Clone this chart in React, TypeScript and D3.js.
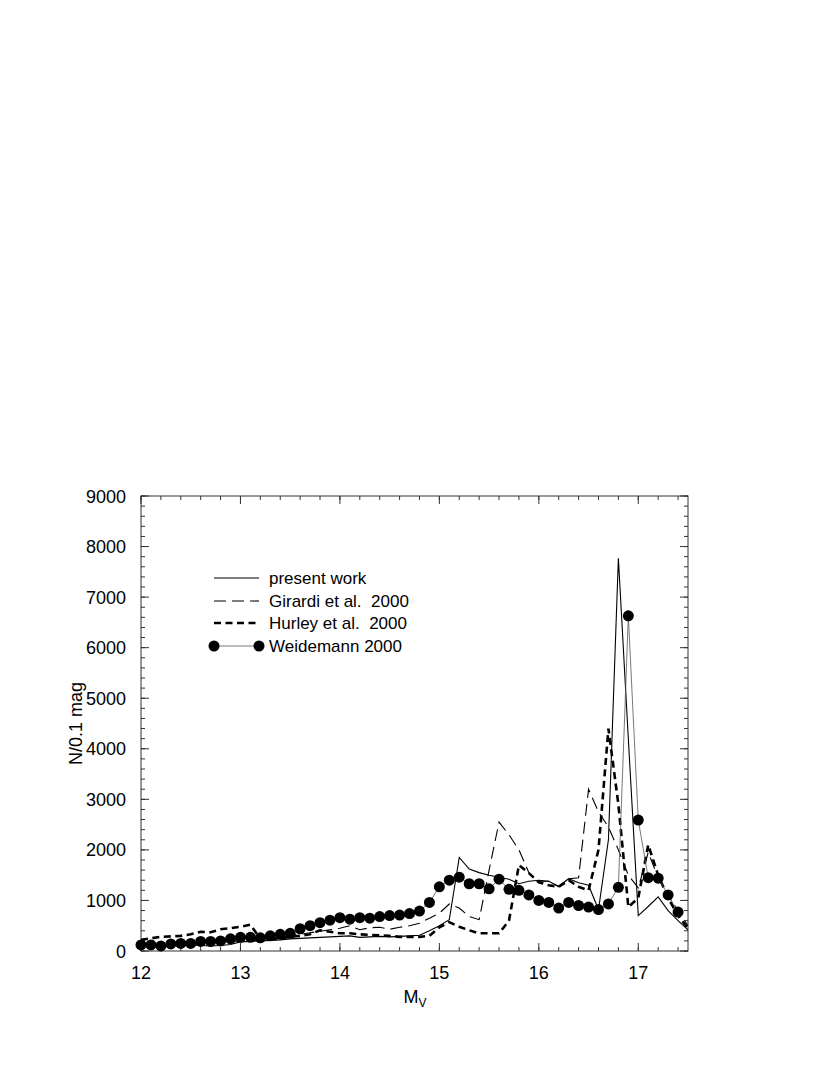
import React from "react";
import * as d3 from "d3";

const mv = d3.range(12.0, 17.501, 0.1).map((v) => Math.round(v * 10) / 10);

const presentWork = [80, 90, 100, 100, 110, 120, 110, 100, 110, 130, 180, 190, 200, 210, 220, 240, 250, 260, 270, 280, 290, 300, 270, 280, 290, 280, 290, 300, 310, 400, 500, 620, 1850, 1620, 1550, 1500, 1460, 1420, 1330, 1380, 1400, 1380, 1280, 1430, 1350, 1300, 820, 2200, 7770, 4200, 700, 880, 1070, 800, 600, 420];
const girardi = [100, 110, 120, 130, 140, 150, 160, 170, 180, 190, 200, 210, 220, 240, 260, 300, 330, 360, 390, 420, 450, 500, 420, 460, 470, 430, 470, 500, 550, 650, 750, 930, 850, 680, 620, 1600, 2550, 2300, 2000, 1550, 1380, 1380, 1270, 1430, 1450, 3200, 2750, 2450, 2000, 1500, 1250, 1950, 1450, 1100, 800, 500];
const hurley = [220, 250, 280, 290, 300, 330, 380, 370, 430, 450, 480, 520, 240, 230, 250, 280, 300, 330, 410, 380, 350, 350, 330, 320, 310, 300, 280, 280, 280, 300, 470, 570, 480, 410, 350, 350, 350, 600, 1700, 1540, 1360, 1300, 1270, 1400, 1270, 1200, 2000, 4400, 2900, 870, 1050, 2100, 1500, 1050, 700, 450];
const weidemannMv = mv.slice(0, 55);
const weidemann = [120, 120, 100, 140, 150, 150, 190, 190, 200, 240, 270, 270, 260, 300, 330, 350, 440, 500, 560, 610, 660, 630, 660, 650, 680, 700, 710, 740, 790, 960, 1270, 1400, 1460, 1330, 1330, 1230, 1420, 1220, 1200, 1110, 1000, 960, 850, 960, 900, 870, 820, 930, 1260, 6630, 2590, 1450, 1440, 1110, 770];

const xTicks = [12, 13, 14, 15, 16, 17];
const yTicks = [0, 1000, 2000, 3000, 4000, 5000, 6000, 7000, 8000, 9000];
const legendLabels = ["present work", "Girardi et al.  2000", "Hurley et al.  2000", "Weidemann 2000"];

export default function App() {
  const W = 830, H = 1075;
  const L = 141, R = 688, T = 496, B = 951;
  const x = d3.scaleLinear().domain([12, 17.5]).range([L, R]);
  const y = d3.scaleLinear().domain([0, 9000]).range([B, T]);
  const line = d3.line<[number, number]>().x((d) => x(d[0])).y((d) => y(d[1]));
  const pts = (vals: number[], xs: number[] = mv) => vals.map((v, i) => [xs[i], v] as [number, number]);

  const xMinor = d3.range(12, 17.5001, 0.2).map((v) => Math.round(v * 10) / 10);
  const yMinor = d3.range(0, 9001, 200);
  const font = "Liberation Sans, Arial, Helvetica, sans-serif";
  const frame = "#333";
  const fs = 18;
  const lfs = 17;

  const legY = [578, 601, 623, 646];
  const lx0 = 214, lx1 = 259;

  return (
    <div style={{ position: "absolute", left: 0, top: 0 }}>
      <svg width={W} height={H} style={{ display: "block", background: "#fff" }}>
        <defs>
          <clipPath id="plot">
            <rect x={L} y={T} width={R - L} height={B - T} />
          </clipPath>
        </defs>
        {xMinor.map((v, i) => (
          <g key={"xm" + i}>
            <line x1={x(v)} x2={x(v)} y1={B} y2={B - 4} stroke={frame} strokeWidth={1} />
            <line x1={x(v)} x2={x(v)} y1={T} y2={T + 4} stroke={frame} strokeWidth={1} />
          </g>
        ))}
        {yMinor.map((v, i) => (
          <g key={"ym" + i}>
            <line x1={L} x2={L + 4} y1={y(v)} y2={y(v)} stroke={frame} strokeWidth={1} />
            <line x1={R} x2={R - 4} y1={y(v)} y2={y(v)} stroke={frame} strokeWidth={1} />
          </g>
        ))}
        {xTicks.map((v) => (
          <g key={"xt" + v}>
            <line x1={x(v)} x2={x(v)} y1={B} y2={B - 8} stroke={frame} strokeWidth={1} />
            <line x1={x(v)} x2={x(v)} y1={T} y2={T + 8} stroke={frame} strokeWidth={1} />
            <text x={x(v)} y={979} textAnchor="middle" fontFamily={font} fontSize={fs} fill="#000">{v}</text>
          </g>
        ))}
        {yTicks.map((v) => (
          <g key={"yt" + v}>
            <line x1={L} x2={L + 8} y1={y(v)} y2={y(v)} stroke={frame} strokeWidth={1} />
            <line x1={R} x2={R - 8} y1={y(v)} y2={y(v)} stroke={frame} strokeWidth={1} />
            <text x={126} y={y(v) + 6.5} textAnchor="end" fontFamily={font} fontSize={fs} fill="#000">{v}</text>
          </g>
        ))}
        <rect x={L} y={T} width={R - L} height={B - T} fill="none" stroke={frame} strokeWidth={1} />

        <g clipPath="url(#plot)">
          <path d={line(pts(presentWork)) || ""} fill="none" stroke="#000" strokeWidth={1.1} />
          <path d={line(pts(girardi)) || ""} fill="none" stroke="#000" strokeWidth={1.1} strokeDasharray="12,6" />
          <path d={line(pts(hurley)) || ""} fill="none" stroke="#000" strokeWidth={2.6} strokeDasharray="7,4.5" />
          <path d={line(pts(weidemann, weidemannMv)) || ""} fill="none" stroke="#555" strokeWidth={0.8} />
        </g>
        {weidemann.map((v, i) => (
          <circle key={"d" + i} cx={x(weidemannMv[i])} cy={y(v)} r={5.5} fill="#000" />
        ))}

        <line x1={lx0} x2={lx1} y1={legY[0]} y2={legY[0]} stroke="#000" strokeWidth={1.1} />
        <line x1={lx0} x2={lx1} y1={legY[1]} y2={legY[1]} stroke="#000" strokeWidth={1.1} strokeDasharray="12,6" />
        <line x1={lx0} x2={lx1} y1={legY[2]} y2={legY[2]} stroke="#000" strokeWidth={2.6} strokeDasharray="7,4.5" />
        <line x1={lx0} x2={lx1} y1={legY[3]} y2={legY[3]} stroke="#555" strokeWidth={0.8} />
        <circle cx={lx0} cy={legY[3]} r={5.5} fill="#000" />
        <circle cx={lx1} cy={legY[3]} r={5.5} fill="#000" />
        {legendLabels.map((t, i) => (
          <text key={"lg" + i} x={269} y={legY[i] + 6} fontFamily={font} fontSize={lfs} fill="#000" style={{ whiteSpace: "pre" }}>{t}</text>
        ))}

        <text x={415} y={1003} textAnchor="middle" fontFamily={font} fontSize={fs} fill="#000">
          M<tspan fontSize={12} dy={4}>V</tspan>
        </text>
        <text transform={`translate(82,${(T + B) / 2}) rotate(-90)`} textAnchor="middle" fontFamily={font} fontSize={fs} fill="#000">N/0.1 mag</text>
      </svg>
    </div>
  );
}
